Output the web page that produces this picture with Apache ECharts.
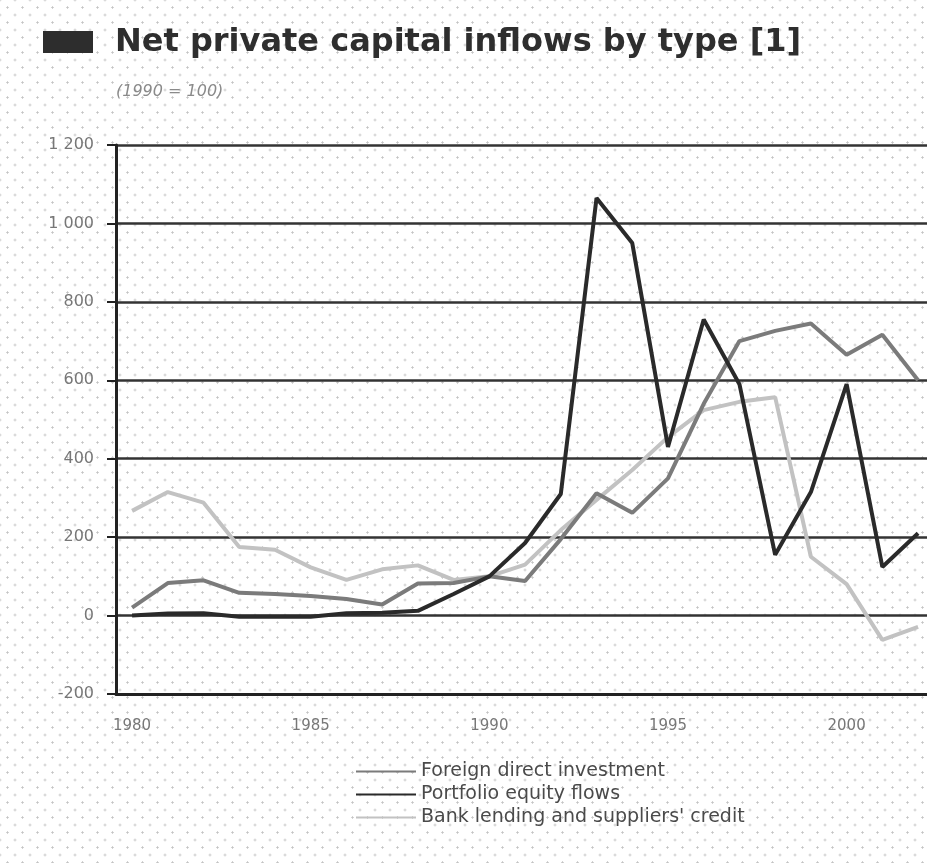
<!DOCTYPE html>
<html>
<head>
<meta charset="utf-8">
<script src="https://cdn.jsdelivr.net/npm/echarts@6/dist/echarts.min.js"></script>
<style>
  html, body { margin: 0; padding: 0; background: #fff; }
  #chart {
    width: 927px; height: 863px;
    /* light dotted paper texture behind the chart */
    background-color: #fff;
    background-image:
      radial-gradient(circle, #c4c4c4 0.9px, transparent 1.3px),
      radial-gradient(circle, #c4c4c4 0.9px, transparent 1.3px);
    background-size: 15px 15px, 15px 15px;
    background-position: 0 0, 7.5px 7.5px;
  }
</style>
</head>
<body>
<div id="chart"></div>
<script>
// Index values, 1990 = 100
var years = [1980, 1981, 1982, 1983, 1984, 1985, 1986, 1987, 1988, 1989, 1990, 1991,
             1992, 1993, 1994, 1995, 1996, 1997, 1998, 1999, 2000, 2001, 2002];
var fdi = [20, 83, 90, 58, 55, 50, 42, 28, 82, 83, 100, 88,
           195, 312, 262, 350, 540, 700, 726, 745, 665, 716, 600];
var portfolio = [0, 5, 6, -3, -3, -3, 6, 7, 12, 55, 100, 185,
                 310, 1065, 950, 430, 755, 590, 155, 315, 590, 124, 210];
var bank = [267, 315, 288, 175, 168, 123, 91, 118, 128, 91, 100, 130,
            218, 295, 371, 455, 524, 545, 557, 150, 80, -62, -29];
var yearLabels = [1980, 1985, 1990, 1995, 2000];
var seriesNames = ['Foreign direct investment', 'Portfolio equity flows', 'Bank lending and suppliers\' credit'];

function pairs(values) {
  return years.map(function (y, i) { return [y, values[i]]; });
}

// thousands separated by a space: 1 200
function spaced(v) {
  return String(v).replace(/\B(?=(\d{3})+(?!\d))/g, ' ');
}

var chart = echarts.init(document.getElementById('chart'), null, { renderer: 'canvas' });

var font = 'DejaVu Sans';

chart.setOption({
  backgroundColor: 'transparent',
  animation: false,
  title: [
    {
      text: 'Net private capital inflows by type [1]',
      left: 110, top: 22,
      textStyle: { fontFamily: font, fontWeight: 'bold', fontSize: 32, color: '#2e2e2e' }
    },
    {
      text: '(1990 = 100)',
      left: 111, top: 79,
      textStyle: { fontFamily: font, fontStyle: 'italic', fontWeight: 'normal', fontSize: 16, color: '#8a8a8a' }
    }
  ],
  graphic: [
    {
      type: 'rect',
      shape: { x: 43, y: 31, width: 50, height: 22 },
      style: { fill: '#2d2d2d' }
    }
  ],
  grid: { left: 116, right: 0, top: 145, bottom: 169 },
  legend: {
    orient: 'vertical',
    left: 350, top: 757,
    itemWidth: 60, itemHeight: 19, itemGap: 4,
    itemStyle: { opacity: 0 },
    textStyle: { fontFamily: font, fontSize: 19, color: '#4a4a4a', lineHeight: 19 },
    data: seriesNames
  },
  xAxis: {
    type: 'value',
    min: 1979.55, max: 2002.25,
    axisLine: { onZero: false, lineStyle: { color: '#222', width: 3 } },
    axisTick: { show: false },
    splitLine: { show: false },
    axisLabel: {
      customValues: yearLabels,
      margin: 25,
      fontFamily: font, fontSize: 15, color: '#777',
      formatter: function (v) { return String(v); }
    }
  },
  yAxis: {
    type: 'value',
    min: -200, max: 1200, interval: 200,
    axisLine: { show: true, lineStyle: { color: '#222', width: 3 } },
    axisTick: { show: true, length: 9, lineStyle: { color: '#222', width: 2 } },
    splitLine: { show: true, lineStyle: { color: '#333', width: 2.5 } },
    axisLabel: {
      margin: 22,
      fontFamily: font, fontSize: 16, color: '#777',
      formatter: spaced
    }
  },
  series: [
    {
      name: seriesNames[0], type: 'line', data: pairs(fdi),
      symbol: 'none', z: 3,
      lineStyle: { color: '#7b7b7b', width: 4 }, itemStyle: { color: '#7b7b7b' }
    },
    {
      name: seriesNames[1], type: 'line', data: pairs(portfolio),
      symbol: 'none', z: 4,
      lineStyle: { color: '#2a2a2a', width: 4 }, itemStyle: { color: '#2a2a2a' }
    },
    {
      name: seriesNames[2], type: 'line', data: pairs(bank),
      symbol: 'none', z: 2,
      lineStyle: { color: '#c2c2c2', width: 4 }, itemStyle: { color: '#c2c2c2' }
    }
  ]
});
</script>
</body>
</html>
